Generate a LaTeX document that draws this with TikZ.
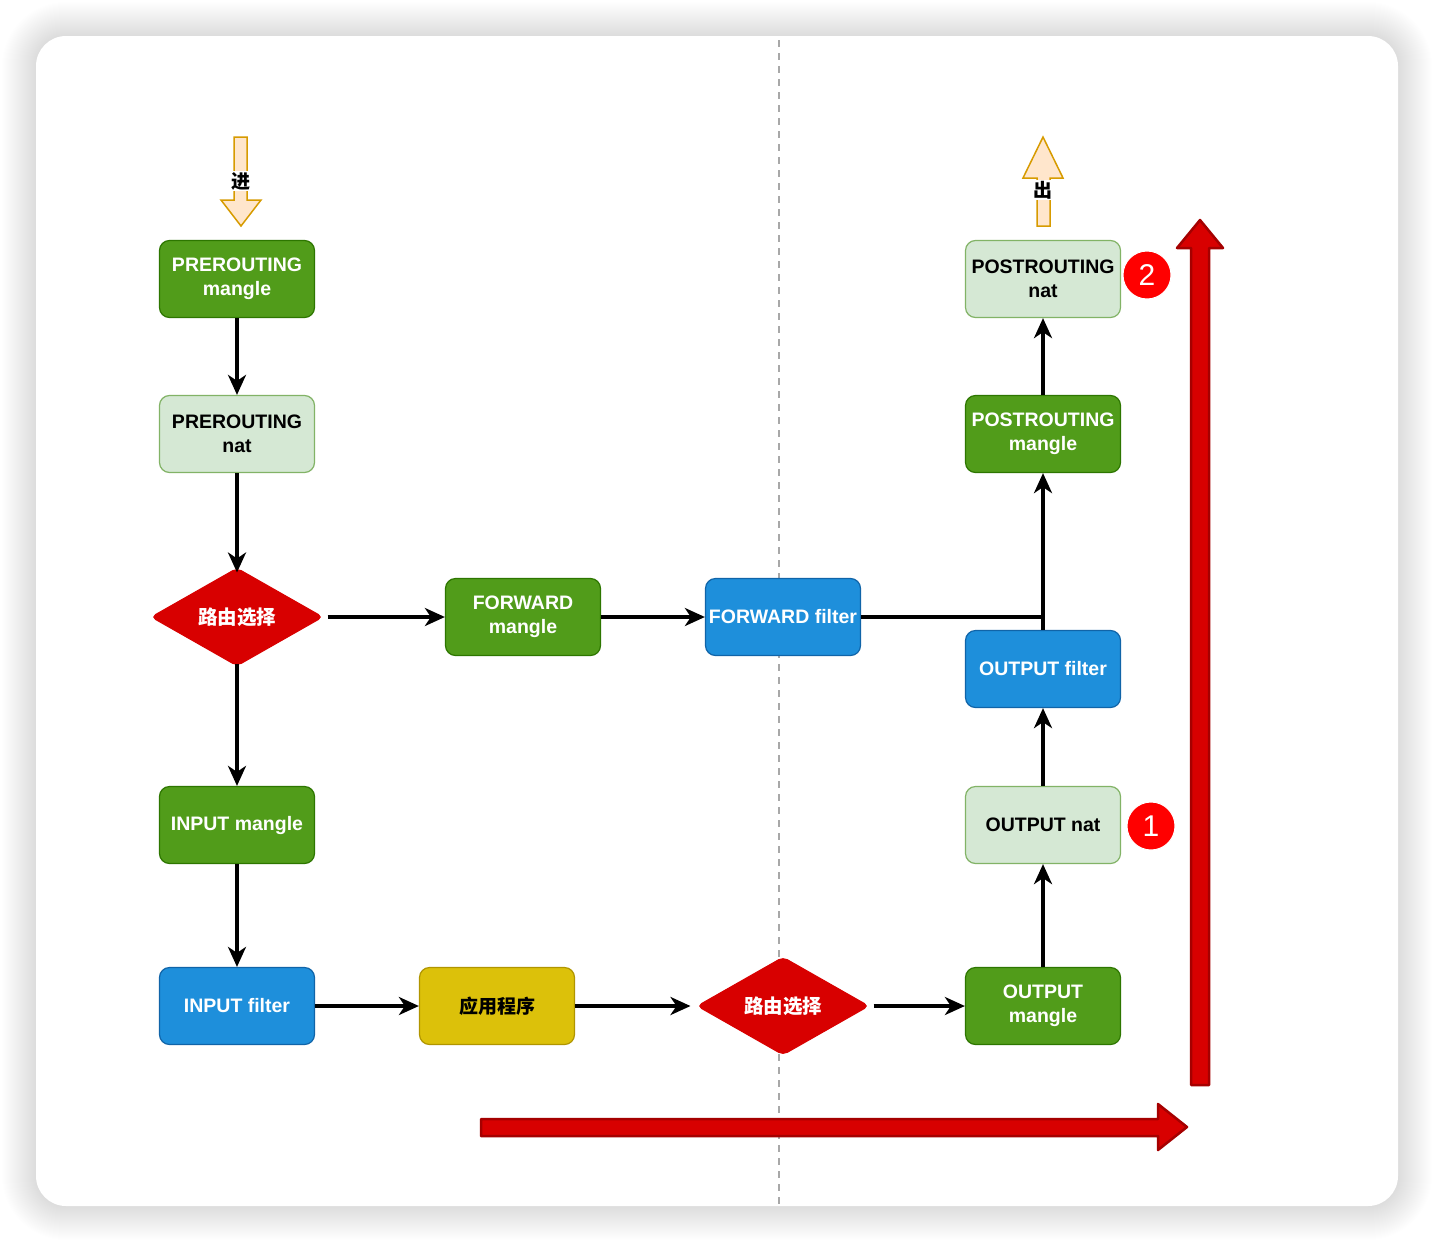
\documentclass[tikz,border=0pt]{standalone}
\usepackage{fontspec}
\usetikzlibrary{shapes.geometric,arrows.meta}
\newfontfamily\lbf{Liberation Sans}
\newfontfamily\cjk{Noto Sans CJK SC}
\definecolor{gfill}{HTML}{519C1A}
\definecolor{gdraw}{HTML}{2D7600}
\definecolor{lgfill}{HTML}{D5E8D4}
\definecolor{lgdraw}{HTML}{82B366}
\definecolor{bfill}{HTML}{1E8FDB}
\definecolor{bdraw}{HTML}{1064A8}
\definecolor{yfill}{HTML}{DCC10A}
\definecolor{ydraw}{HTML}{B09500}
\definecolor{rfill}{HTML}{D80000}
\definecolor{rdraw}{HTML}{A50000}
\definecolor{ofill}{HTML}{FFE6CC}
\definecolor{odraw}{HTML}{D79B00}
\definecolor{dashc}{HTML}{A8A8A8}
\tikzset{
  box/.style={rectangle, rounded corners=10pt, minimum width=155pt, minimum height=77pt,
    line width=1.2pt, align=center, inner sep=2pt, font=\lbf\bfseries\fontsize{19.5}{24}\selectfont},
  gbox/.style={box, fill=gfill, draw=gdraw, text=white},
  lgbox/.style={box, fill=lgfill, draw=lgdraw, text=black},
  bbox/.style={box, fill=bfill, draw=bdraw, text=white},
  ybox/.style={box, fill=yfill, draw=ydraw, text=black, font=\cjk\bfseries\fontsize{19}{24}\selectfont},
  route/.style={diamond, fill=rfill, draw=rfill, line width=1pt, rounded corners=5pt, inner sep=0pt,
    minimum width=172pt, minimum height=98pt, text=white, font=\cjk\bfseries\fontsize{19.5}{24}\selectfont},
  badge/.style={circle, fill=red, draw=white, line width=1pt, minimum size=48pt, inner sep=0pt,
    text=white, font=\lbf\fontsize{30}{32}\selectfont},
  conn/.style={line width=3.5pt, draw=black, -{Stealth[length=20pt,width=18pt,inset=6pt]}},
  plain/.style={line width=3.5pt, draw=black},
  bigarrow/.style={fill=rfill, draw=rdraw, line width=2.5pt, line join=round},
  inout/.style={fill=ofill, draw=odraw, line width=1.5pt},
  lab/.style={fill=white, inner sep=1pt, font=\cjk\bfseries\fontsize{19}{20}\selectfont}
}
\begin{document}
\begin{tikzpicture}[x=1pt,y=-1pt]
\useasboundingbox (0,0) rectangle (1434,1242);
\fill[white] (0,0) rectangle (1434,1242);
% shadow
\foreach \i in {0,...,34}{
  \fill[black, opacity=0.005, rounded corners={30pt+\i pt}] (36-\i,36-\i) rectangle (1398+\i,1206+\i);
}
\fill[white, rounded corners=30pt] (36,36) rectangle (1398,1206);
% dashed divider
\draw[dashc, line width=1.8pt, dash pattern=on 7pt off 6pt] (779,40) -- (779,1205);

% nodes
\node[gbox]  (prem) at (237,279) {PREROUTING\\mangle};
\node[lgbox] (pren) at (237,434) {PREROUTING\\nat};
\node[route] (r1)   at (237,617) {路由选择};
\node[gbox]  (fwm)  at (523,617) {FORWARD\\mangle};
\node[bbox]  (fwf)  at (783,617) {FORWARD filter};
\node[gbox]  (inm)  at (237,825) {INPUT mangle};
\node[bbox]  (inf)  at (237,1006) {INPUT filter};
\node[ybox]  (app)  at (497,1006) {应用程序};
\node[route] (r2)   at (783,1006) {路由选择};
\node[gbox]  (outm) at (1043,1006) {OUTPUT\\mangle};
\node[lgbox] (outn) at (1043,825) {OUTPUT nat};
\node[bbox]  (outf) at (1043,669) {OUTPUT filter};
\node[gbox]  (postm) at (1043,434) {POSTROUTING\\mangle};
\node[lgbox] (postn) at (1043,279) {POSTROUTING\\nat};
\node[badge] (b1) at (1151,826) {1};
\node[badge] (b2) at (1147,275) {2};

% connectors
\draw[conn] (prem) -- (pren);
\draw[conn] (pren.south) -- ([yshift=-5pt]r1.north);
\draw[conn] ([xshift=4pt]r1.east) -- (fwm.west);
\draw[conn] (fwm) -- (fwf);
\draw[plain] (fwf.east) -| (outf.north);
\draw[conn] (outf) -- (postm);
\draw[conn] (postm) -- (postn);
\draw[conn] ([yshift=3pt]r1.south) -- (inm.north);
\draw[conn] (inm) -- (inf);
\draw[conn] (inf) -- (app);
\draw[conn] (app.east) -- ([xshift=-6pt]r2.west);
\draw[conn] ([xshift=4pt]r2.east) -- (outm.west);
\draw[conn] (outm) -- (outn);
\draw[conn] (outn) -- (outf);

% in / out arrows
\filldraw[inout] (234,137) -- (247,137) -- (247,200) -- (261,200) -- (241,226) -- (221,200) -- (234,200) -- cycle;
\node[lab] (jin) at (241,181) {进};
\filldraw[inout] (1037,226) -- (1050,226) -- (1050,178) -- (1063,178) -- (1043,137) -- (1023,178) -- (1037,178) -- cycle;
\node[lab] (chu) at (1043,190) {出};

% big red arrows
\filldraw[bigarrow] (1191,1085) -- (1209,1085) -- (1209,248) -- (1223,248) -- (1200,220) -- (1177,248) -- (1191,248) -- cycle;
\filldraw[bigarrow] (481,1119) -- (1158,1119) -- (1158,1104) -- (1187,1127) -- (1158,1150) -- (1158,1136) -- (481,1136) -- cycle;
\end{tikzpicture}
\end{document}
